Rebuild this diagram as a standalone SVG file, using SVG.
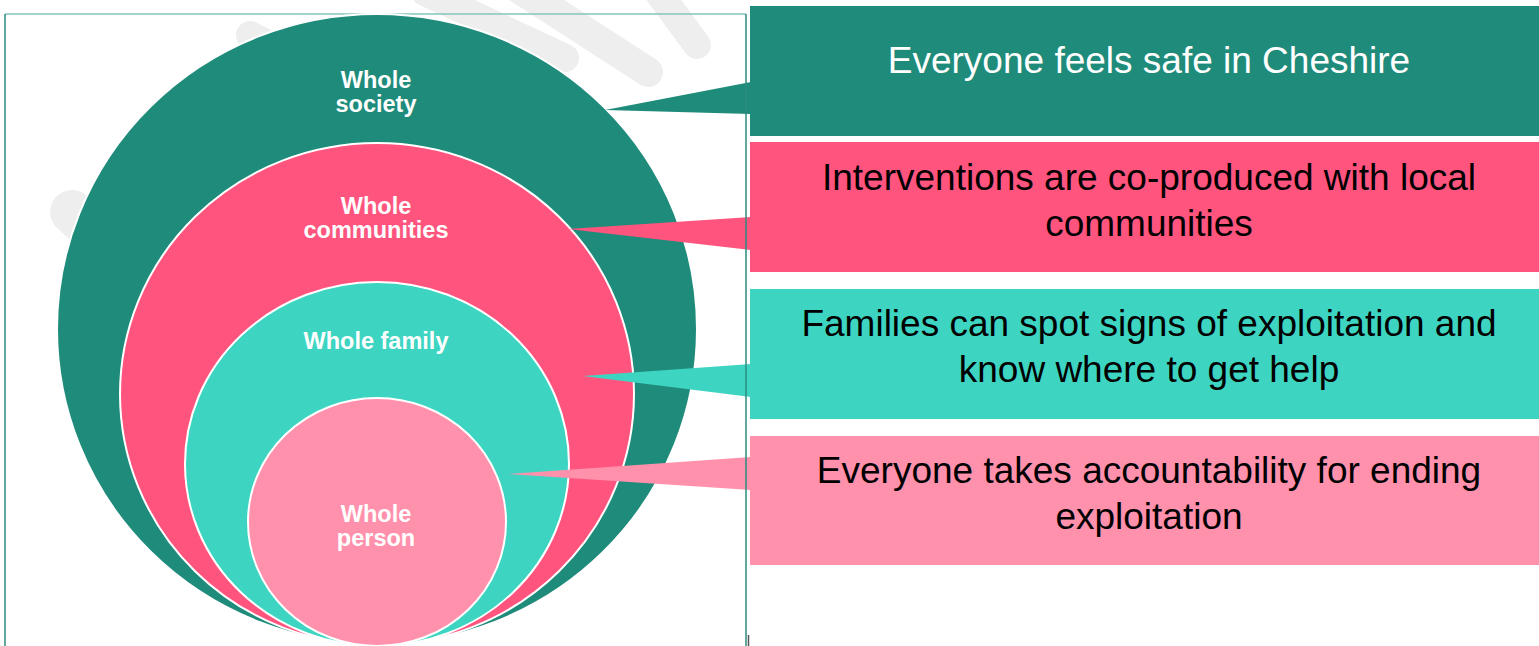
<svg xmlns="http://www.w3.org/2000/svg" width="1539" height="646" viewBox="0 0 1539 646">
<style>
.wm{fill:none;stroke:#eeeeee;stroke-linecap:round}
.ring{stroke:#ffffff;stroke-width:2}
.lbl{font-family:"Liberation Sans",Arial,sans-serif;font-weight:bold;font-size:23.5px;fill:#ffffff;text-anchor:middle}
.txt{font-family:"Liberation Sans",Arial,sans-serif;font-size:37px;text-anchor:middle}
.teal{fill:#1f8b7b}
.pink{fill:#ff547e}
.turq{fill:#3dd5c2}
.lpink{fill:#ff91ac}
</style>
<rect width="1539" height="646" fill="#ffffff"/>
<g id="watermark">
<path class="wm" d="M72 212 L170 300" stroke-width="44"/>
<path class="wm" d="M250 35 L330 75" stroke-width="28"/>
<path class="wm" d="M425 -8 L565 58" stroke-width="28"/>
<path class="wm" d="M518 -12 L648 72" stroke-width="30"/>
<path class="wm" d="M655 -12 L697 45" stroke-width="28"/>
</g>
<g id="frame">
<line x1="5" y1="14" x2="746" y2="14" stroke="#86c3bb" stroke-width="1.5"/>
<line x1="5" y1="14" x2="5" y2="646" stroke="#2a8c7e" stroke-width="1.5"/>
</g>
<g id="whole-society">
<ellipse class="ring teal" cx="377" cy="329" rx="320" ry="315"/>
<text class="lbl" x="376" y="88">Whole</text>
<text class="lbl" x="376" y="112">society</text>
</g>
<g id="whole-communities">
<ellipse class="ring pink" cx="377" cy="394" rx="257" ry="251"/>
<text class="lbl" x="376" y="214">Whole</text>
<text class="lbl" x="376" y="238">communities</text>
</g>
<g id="whole-family">
<ellipse class="ring turq" cx="377" cy="464" rx="192" ry="182"/>
<text class="lbl" x="376" y="349">Whole family</text>
</g>
<g id="whole-person">
<ellipse class="ring lpink" cx="377" cy="522" rx="129" ry="124"/>
<text class="lbl" x="376" y="522">Whole</text>
<text class="lbl" x="376" y="546">person</text>
</g>
<g id="connectors">
<polygon class="teal" points="605,110 751,82 751,114"/>
<polygon class="pink" points="568,229 751,217 751,250"/>
<polygon class="turq" points="583,376 751,364 751,397"/>
<polygon class="lpink" points="508,474 751,457 751,490"/>
</g>
<line x1="746" y1="14" x2="746" y2="646" stroke="#2a8c7e" stroke-width="1.5"/>
<line x1="748.5" y1="635" x2="748.5" y2="646" stroke="#555555" stroke-width="1.5"/>
<g id="box-society">
<rect class="teal" x="750" y="6" width="789" height="130"/>
<text class="txt" x="1149" y="73" fill="#ffffff">Everyone feels safe in Cheshire</text>
</g>
<g id="box-communities">
<rect class="pink" x="750" y="142" width="789" height="130"/>
<text class="txt" x="1149" y="190" fill="#000000">Interventions are co-produced with local</text>
<text class="txt" x="1149" y="236" fill="#000000">communities</text>
</g>
<g id="box-family">
<rect class="turq" x="750" y="289" width="789" height="130"/>
<text class="txt" x="1149" y="336" fill="#000000">Families can spot signs of exploitation and</text>
<text class="txt" x="1149" y="382" fill="#000000">know where to get help</text>
</g>
<g id="box-person">
<rect class="lpink" x="750" y="436" width="789" height="129"/>
<text class="txt" x="1149" y="483" fill="#000000">Everyone takes accountability for ending</text>
<text class="txt" x="1149" y="529" fill="#000000">exploitation</text>
</g>
</svg>
